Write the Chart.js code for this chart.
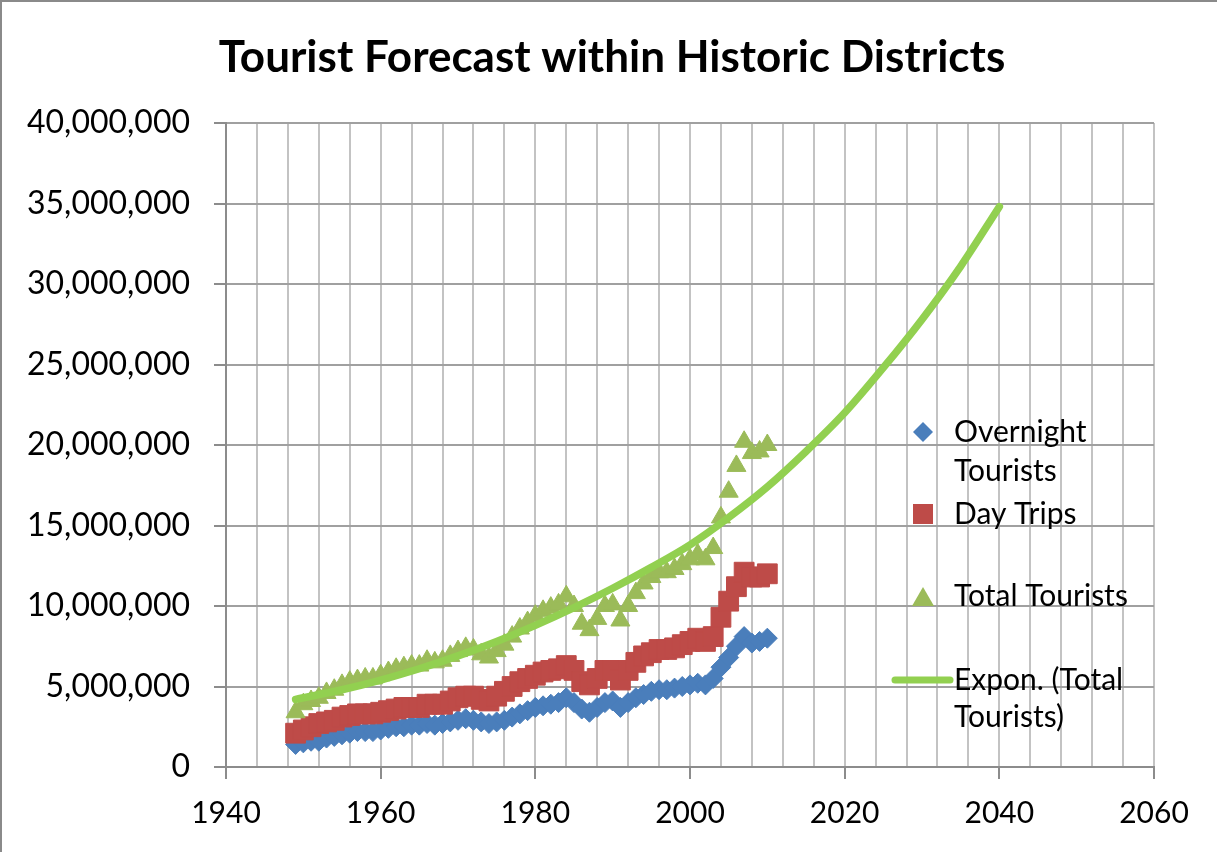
<!DOCTYPE html>
<html>
<head>
<meta charset="utf-8">
<title>Tourist Forecast within Historic Districts</title>
<script src="https://cdn.jsdelivr.net/npm/chart.js@4.4.1/dist/chart.umd.min.js"></script>
<style>
    html, body { margin: 0; padding: 0; background: #fff; }
    canvas { display: block; }
</style>
</head>
<body>
<canvas id="chart" width="1217" height="852"></canvas>
<script>
// values in millions of tourists
const years = [
    1949, 1950, 1951, 1952, 1953, 1954, 1955, 1956, 1957, 1958,
    1959, 1960, 1961, 1962, 1963, 1964, 1965, 1966, 1967, 1968,
    1969, 1970, 1971, 1972, 1973, 1974, 1975, 1976, 1977, 1978,
    1979, 1980, 1981, 1982, 1983, 1984, 1985, 1986, 1987, 1988,
    1989, 1990, 1991, 1992, 1993, 1994, 1995, 1996, 1997, 1998,
    1999, 2000, 2001, 2002, 2003, 2004, 2005, 2006, 2007, 2008,
    2009, 2010
];

const overnight = [
    1.4, 1.5, 1.6, 1.6, 1.8, 1.9, 2.0, 2.1, 2.2, 2.2,
    2.2, 2.3, 2.4, 2.5, 2.5, 2.6, 2.6, 2.7, 2.6, 2.7,
    2.8, 2.9, 3.0, 2.9, 2.8, 2.7, 2.8, 2.9, 3.1, 3.3,
    3.5, 3.7, 3.8, 3.9, 4.0, 4.3, 4.0, 3.6, 3.4, 3.7,
    4.0, 4.1, 3.7, 4.0, 4.3, 4.5, 4.7, 4.8, 4.8, 4.9,
    5.0, 5.1, 5.2, 5.1, 5.5, 6.2, 6.8, 7.5, 8.1, 7.7,
    7.8, 8.0
];

const dayTrips = [
    2.1, 2.3, 2.5, 2.7, 2.8, 2.9, 3.1, 3.2, 3.3, 3.3,
    3.3, 3.4, 3.5, 3.6, 3.7, 3.7, 3.7, 3.9, 3.9, 3.9,
    4.1, 4.3, 4.4, 4.4, 4.2, 4.1, 4.4, 4.7, 5.0, 5.3,
    5.5, 5.7, 5.9, 6.0, 6.1, 6.3, 6.0, 5.3, 5.1, 5.5,
    6.0, 6.0, 5.4, 6.0, 6.5, 6.9, 7.1, 7.3, 7.3, 7.4,
    7.6, 7.8, 8.0, 7.8, 8.1, 9.3, 10.3, 11.2, 12.1, 11.8,
    11.8, 12.0
];

const totalTourists = [
    3.4, 3.9, 4.1, 4.3, 4.6, 4.8, 5.1, 5.3, 5.4, 5.5,
    5.5, 5.7, 5.9, 6.1, 6.2, 6.3, 6.3, 6.6, 6.5, 6.6,
    6.9, 7.2, 7.4, 7.3, 7.0, 6.8, 7.2, 7.6, 8.1, 8.6,
    9.0, 9.4, 9.7, 9.9, 10.1, 10.6, 10.0, 8.9, 8.5, 9.2,
    10.0, 10.1, 9.1, 10.0, 10.8, 11.4, 11.8, 12.1, 12.1, 12.3,
    12.6, 12.9, 13.2, 12.9, 13.6, 15.5, 17.1, 18.7, 20.2, 19.5,
    19.6, 20.0
];

// exponential trendline of Total Tourists
const trendYears = [1949, 1955, 1960, 1965, 1970, 1975, 1980, 1985, 1990, 1995,
    2000, 2005, 2010, 2015, 2020, 2025, 2030, 2035, 2040];
const trendValues = [4.2, 4.8, 5.4, 6.1, 6.9, 7.8, 8.8, 9.9, 11.1, 12.4,
    13.8, 15.5, 17.4, 19.6, 22.0, 24.8, 27.8, 31.1, 34.8];

const xTicks = [1940, 1960, 1980, 2000, 2020, 2040, 2060];
const yTicks = [0, 5000000, 10000000, 15000000, 20000000, 25000000, 30000000, 35000000, 40000000];

const MILLION = 1000000;
const FONT = "Lato, 'DejaVu Sans', sans-serif";

const toPoints = (xs, ys) => xs.map((x, i) => ({ x: x, y: ys[i] * MILLION }));

const BLUE = "#4a7ebb";
const RED = "#be4b48";
const GREEN = "#9bbb59";
const TREND = "#92d050";

// white background + thin outer chart border
const frame = {
    id: "frame",
    beforeDraw(chart) {
        const ctx = chart.ctx;
        ctx.save();
        ctx.fillStyle = "#fff";
        ctx.fillRect(0, 0, chart.width, chart.height);
        ctx.strokeStyle = "#8a8a8a";
        ctx.lineWidth = 2;
        ctx.strokeRect(1, 1, chart.width + 4, chart.height + 4);
        ctx.restore();
    }
};

// Excel-like legend sitting inside the plot area
const excelLegend = {
    id: "excelLegend",
    afterDraw(chart) {
        const ctx = chart.ctx;
        ctx.save();
        ctx.font = "30px " + FONT;
        ctx.textBaseline = "middle";
        ctx.textAlign = "left";
        const tx = 954;

        // diamond
        ctx.fillStyle = BLUE;
        ctx.beginPath();
        ctx.moveTo(923, 422);
        ctx.lineTo(933, 432);
        ctx.lineTo(923, 442);
        ctx.lineTo(913, 432);
        ctx.closePath();
        ctx.fill();

        // square
        ctx.fillStyle = RED;
        ctx.fillRect(913, 504, 20, 20);

        // triangle
        ctx.fillStyle = GREEN;
        ctx.beginPath();
        ctx.moveTo(923, 587);
        ctx.lineTo(934, 606);
        ctx.lineTo(912, 606);
        ctx.closePath();
        ctx.fill();

        // trend line sample
        ctx.strokeStyle = TREND;
        ctx.lineWidth = 7;
        ctx.lineCap = "round";
        ctx.beginPath();
        ctx.moveTo(895, 680);
        ctx.lineTo(950, 680);
        ctx.stroke();

        ctx.fillStyle = "#000";
        ctx.fillText("Overnight", tx, 432);
        ctx.fillText("Tourists", tx, 471);
        ctx.fillText("Day Trips", tx, 514);
        ctx.fillText("Total Tourists", tx, 596);
        ctx.fillText("Expon. (Total", tx, 680);
        ctx.fillText("Tourists)", tx, 717);
        ctx.restore();
    }
};

new Chart(document.getElementById("chart"), {
    type: "scatter",
    data: {
        datasets: [
            {
                label: "Overnight Tourists",
                data: toPoints(years, overnight),
                pointStyle: "rectRot",
                pointRadius: 10,
                backgroundColor: BLUE,
                borderColor: BLUE,
                borderWidth: 1,
                order: 4
            },
            {
                label: "Day Trips",
                data: toPoints(years, dayTrips),
                pointStyle: "rect",
                pointRadius: 14,
                backgroundColor: RED,
                borderColor: RED,
                borderWidth: 1,
                order: 3
            },
            {
                label: "Total Tourists",
                data: toPoints(years, totalTourists),
                pointStyle: "triangle",
                pointRadius: 11,
                backgroundColor: GREEN,
                borderColor: GREEN,
                borderWidth: 1,
                order: 2
            },
            {
                label: "Expon. (Total Tourists)",
                data: toPoints(trendYears, trendValues),
                showLine: true,
                pointRadius: 0,
                borderColor: TREND,
                borderWidth: 7.5,
                borderCapStyle: "round",
                cubicInterpolationMode: "monotone",
                order: 1
            }
        ]
    },
    options: {
        responsive: false,
        animation: false,
        layout: { padding: { left: 7, right: 0, top: 0, bottom: 0 } },
        plugins: {
            legend: { display: false },
            tooltip: { enabled: false },
            title: {
                display: true,
                text: "Tourist Forecast within Historic Districts",
                color: "#000",
                font: { family: FONT, size: 44, weight: "bold", lineHeight: 1.2 },
                padding: { top: 31, bottom: 39.2 }
            }
        },
        scales: {
            x: {
                type: "linear",
                min: xTicks[0],
                max: xTicks[xTicks.length - 1],
                afterFit: (s) => { s.height = 85; },
                ticks: {
                    stepSize: 4,
                    autoSkip: false,
                    maxRotation: 0,
                    minRotation: 0,
                    padding: 16,
                    color: "#000",
                    font: { family: FONT, size: 30 },
                    callback: (v) => xTicks.includes(v) ? String(v) : ""
                },
                grid: {
                    color: "#c3c3c3",
                    lineWidth: 2,
                    tickLength: 12,
                    tickColor: (c) => (c.tick && xTicks.includes(c.tick.value)) ? "#8c8c8c" : "rgba(0,0,0,0)"
                },
                border: { color: "#8c8c8c", width: 2 }
            },
            y: {
                min: yTicks[0],
                max: yTicks[yTicks.length - 1],
                afterFit: (s) => { s.width = 219; },
                ticks: {
                    stepSize: 5000000,
                    padding: 24,
                    color: "#000",
                    font: { family: FONT, size: 32 },
                    callback: (v) => v.toLocaleString("en-US")
                },
                grid: {
                    color: "#a0a0a0",
                    lineWidth: 2,
                    tickLength: 12,
                    tickColor: "#8c8c8c"
                },
                border: { color: "#8c8c8c", width: 2 }
            },
            // empty right-hand spacer so the plot stops at 2060 like the original
            spacer: {
                type: "linear",
                position: "right",
                min: 0,
                max: 1,
                afterFit: (s) => { s.width = 63; },
                ticks: { display: false },
                grid: { display: false, drawOnChartArea: false },
                border: { display: false }
            }
        }
    },
    plugins: [frame, excelLegend]
});
</script>
</body>
</html>
